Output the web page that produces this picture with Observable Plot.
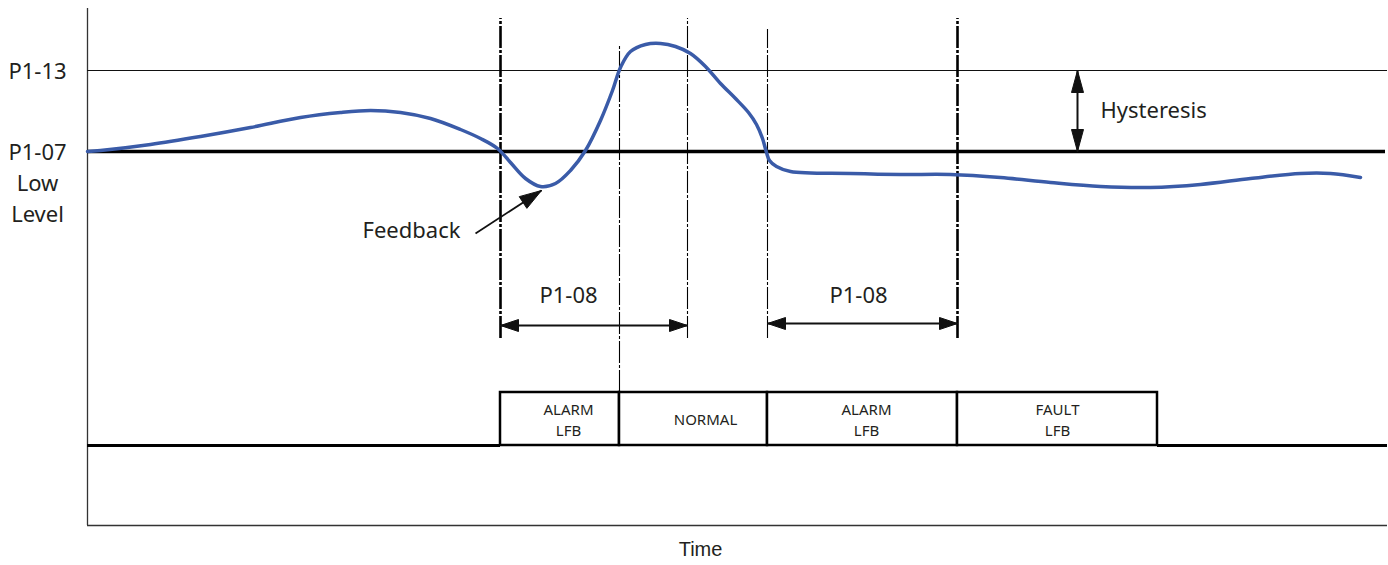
<!DOCTYPE html>
<html><head><meta charset="utf-8">
<script src="https://cdn.jsdelivr.net/npm/d3@7"></script>
<script src="https://cdn.jsdelivr.net/npm/@observablehq/plot@0.6"></script>
<style>
html,body{margin:0;padding:0;background:#fff;}
#chart{width:1388px;height:565px;overflow:hidden;}
</style></head><body><div id="chart"></div>
<script>
// ---- data (time units, level units) ----
const feedbackTime  = [0, 13, 63, 113, 163, 213, 253, 283, 313, 343, 373, 393, 410, 423, 438, 453, 468, 483, 498, 513, 525, 533, 543, 558, 573, 588, 603, 618, 633, 648, 661, 669, 675, 679, 682, 689, 703, 763, 813, 863, 913, 963, 1013, 1063, 1113, 1163, 1213, 1243, 1273];
const feedbackLevel = [374, 375, 381, 389, 398, 408, 413, 415, 413, 407, 396, 387, 377, 363, 347, 339, 342, 355, 375, 405, 435, 458, 474, 481, 482, 479, 472, 459, 442, 427, 413, 401, 387, 373, 365, 359, 354, 352, 351, 351, 348, 343, 339, 338, 341, 347, 352, 352, 348];

const thresholdNames  = ["P1-13", "P1-07\nLow\nLevel"];
const thresholdLevels = [455, 374];
const timeEnd = 1300;
const levelTop = 517;

// state boxes
const stateStart = [413, 532, 680, 870];
const stateEnd   = [532, 680, 870, 1070];
const stateNames = ["ALARM\nLFB", "NORMAL", "ALARM\nLFB", "FAULT\nLFB"];
const stateLabelTime = [481, 618, 779, 970];
const stateLow = 80, stateHigh = 133;

// event markers (vertical dashed lines)
const majorEventTime = [413, 870];
const majorEventTop  = [507, 507];
const majorEventBottom = [187, 187];
const minorEventTime = [532, 600, 680];
const minorEventTop  = [480, 507, 496];
const minorEventBottom = [133, 187, 187];

// P1-08 timer spans
const timerStart = [413, 680];
const timerEnd   = [600, 870];
const timerLevel = [200, 202];
const timerLabel = ["P1-08", "P1-08"];
const timerLabelTime = [481, 771];
const timerLabelLevel = 230;

// hysteresis
const hysteresisTime = 990;
const hysteresisLabelTime = 1013;
const hysteresisLabelLevel = 415;

// feedback pointer
const feedbackPointerFrom = [388, 292];
const feedbackPointerTo   = [454, 335];

// ---- build tables ----
const curve = feedbackTime.map((t, i) => ({t, v: feedbackLevel[i]}));
const states = stateStart.map((s, i) => ({s, e: stateEnd[i], name: stateNames[i], lt: stateLabelTime[i]}));
const majors = majorEventTime.map((t, i) => ({t, top: majorEventTop[i], bot: majorEventBottom[i]}));
const minors = minorEventTime.map((t, i) => ({t, top: minorEventTop[i], bot: minorEventBottom[i]}));
const timers = timerStart.map((s, i) => ({s, e: timerEnd[i], v: timerLevel[i], label: timerLabel[i], lt: timerLabelTime[i]}));

function head(id, tipX, tipY, fromX, fromY, len, half) {
  const dx = tipX - fromX, dy = tipY - fromY, d = Math.hypot(dx, dy);
  const ux = dx / d, uy = dy / d;
  const bx = tipX - ux * len, by = tipY - uy * len;
  return [
    {id, x: tipX, y: tipY},
    {id, x: bx - uy * half, y: by + ux * half},
    {id, x: bx + uy * half, y: by - ux * half},
    {id, x: tipX, y: tipY}
  ];
}
const heads = [];
timers.forEach((tm, i) => {
  heads.push(...head("ts" + i, tm.s, tm.v, tm.e, tm.v, 18, 6));
  heads.push(...head("te" + i, tm.e, tm.v, tm.s, tm.v, 18, 6));
});
heads.push(...head("hu", hysteresisTime, thresholdLevels[0], hysteresisTime, thresholdLevels[1], 22, 6));
heads.push(...head("hd", hysteresisTime, thresholdLevels[1], hysteresisTime, thresholdLevels[0], 22, 6));
heads.push(...head("fb", feedbackPointerTo[0], feedbackPointerTo[1], feedbackPointerFrom[0], feedbackPointerFrom[1], 22, 7));

const ink = "#231f20";
const font = "Noto Sans";

const chart = Plot.plot({
  width: 1388,
  height: 565,
  marginLeft: 87,
  marginRight: 1,
  marginTop: 8,
  marginBottom: 40,
  x: {domain: [0, timeEnd], axis: null},
  y: {domain: [0, levelTop], axis: null},
  style: {fontFamily: font, background: "white", overflow: "visible"},
  marks: [
    // frame
    Plot.ruleX([0], {y1: 0, y2: levelTop, stroke: "#333", strokeWidth: 1.3}),
    Plot.ruleY([0], {x1: 0, x2: timeEnd, stroke: "#333", strokeWidth: 1.3}),
    // thresholds
    Plot.ruleY([thresholdLevels[0]], {x1: 0, x2: timeEnd, stroke: "#111", strokeWidth: 1.2}),
    Plot.ruleY([thresholdLevels[1]], {x1: 0, x2: timeEnd - 2, stroke: "#000", strokeWidth: 3.5}),
    // state baseline
    Plot.ruleY([stateLow], {x1: 0, x2: stateStart[0], stroke: "#000", strokeWidth: 3}),
    Plot.ruleY([stateLow], {x1: stateEnd[stateEnd.length - 1], x2: timeEnd, stroke: "#000", strokeWidth: 3}),
    // event lines
    Plot.ruleX(majors, {x: "t", y1: "bot", y2: "top", stroke: "#000", strokeWidth: 2.6, strokeDasharray: "22,2,3,2"}),
    Plot.ruleX(minors, {x: "t", y1: "bot", y2: "top", stroke: "#000", strokeWidth: 1.1, strokeDasharray: "22,2,3,2"}),
    // state boxes
    Plot.rect(states, {x1: "s", x2: "e", y1: stateLow, y2: stateHigh, fill: "white", stroke: "#000", strokeWidth: 2.5}),
    Plot.text(states, {x: "lt", y: (stateLow + stateHigh) / 2, text: "name", fontSize: 15, lineHeight: 1.35, fill: ink}),
    // timer arrows
    Plot.link(timers, {x1: "s", x2: "e", y1: "v", y2: "v", stroke: "#111", strokeWidth: 2.2}),
    Plot.text(timers, {x: "lt", y: timerLabelLevel, text: "label", fontSize: 22, fill: ink}),
    // hysteresis
    Plot.link([0], {x1: hysteresisTime, x2: hysteresisTime, y1: thresholdLevels[1], y2: thresholdLevels[0], stroke: "#111", strokeWidth: 2}),
    Plot.text(["Hysteresis"], {x: hysteresisLabelTime, y: hysteresisLabelLevel, text: d => d, textAnchor: "start", fontSize: 22, fill: ink}),
    // feedback pointer
    Plot.link([0], {x1: feedbackPointerFrom[0], y1: feedbackPointerFrom[1], x2: feedbackPointerTo[0], y2: feedbackPointerTo[1], stroke: "#111", strokeWidth: 1.8}),
    Plot.text(["Feedback"], {x: feedbackPointerFrom[0] - 15, y: feedbackPointerFrom[1] + 3, text: d => d, textAnchor: "end", fontSize: 22, fill: ink}),
    // arrow heads
    Plot.line(heads, {x: "x", y: "y", z: "id", fill: "#111", stroke: "#111", strokeWidth: 1, curve: "linear"}),
    // threshold labels
    Plot.text(thresholdNames, {x: -50, y: (d, i) => thresholdLevels[i], text: d => d, lineAnchor: "top", dy: -14, fontSize: 22, lineHeight: 1.41, fill: ink}),
    // feedback curve
    Plot.line(curve, {x: "t", y: "v", stroke: "#3a5ba8", strokeWidth: 3.5, curve: "catmull-rom"}),
    // axis title
    Plot.text(["Time"], {x: 613, frameAnchor: "bottom", dy: 30, text: d => d, fontSize: 20, fontFamily: "Liberation Sans", fill: ink})
  ]
});
document.getElementById("chart").appendChild(chart);
</script></body></html>
